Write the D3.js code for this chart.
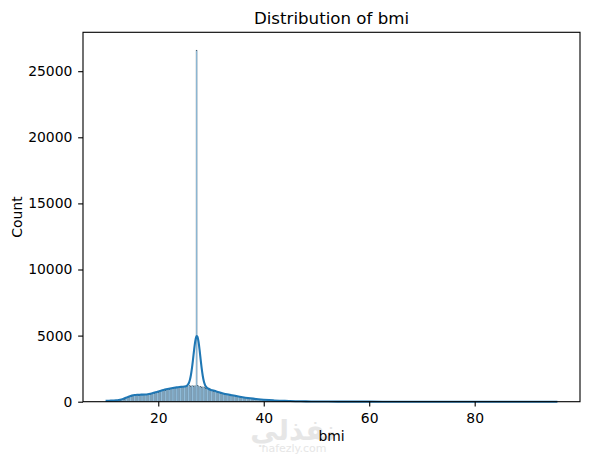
<!DOCTYPE html>
<html>
<head>
<meta charset="utf-8">
<script src="https://cdn.jsdelivr.net/npm/d3@7"></script>
<style>
  body { margin: 0; background: #fff; }
  svg { display: block; }
  text { font-family: "DejaVu Sans", sans-serif; }
</style>
</head>
<body>
<div id="chart"></div>
<script>
const width = 589, height = 455;
const margin = { top: 32.3, right: 9, bottom: 53.3, left: 83 };

// histogram of bmi: first edge, bin width and counts per bin
const binStart = 10.01;
const binWidth = 0.25576;
const counts = [
    25, 28, 32, 35, 38, 42, 46, 52, 58, 70, 85, 105, 130, 165, 210, 260, 310, 355, 395, 430,
    455, 475, 490, 500, 505, 512, 515, 520, 525, 530, 540, 550, 565, 580, 600, 620, 645, 670, 700, 730,
    760, 790, 820, 850, 880, 910, 935, 960, 985, 1005, 1025, 1045, 1065, 1080, 1095, 1110, 1120, 1130, 1140, 1150,
    1175, 1160, 1230, 1185, 1250, 1190, 1210, 26600, 1240, 1150, 1170, 1110, 1120, 1055, 1040, 990, 960, 920, 885, 850,
    815, 785, 750, 720, 690, 660, 635, 610, 585, 560, 540, 520, 500, 480, 460, 440, 422, 405, 388, 372,
    356, 340, 325, 310, 296, 282, 268, 255, 243, 231, 220, 209, 198, 188, 178, 169, 160, 152, 144, 136,
    129, 122, 115, 109, 103, 97, 92, 87, 82, 77, 73, 69, 65, 61, 58, 55, 52, 49, 46, 43,
    41, 39, 37, 35, 33, 31, 30, 28, 27, 25, 24, 23, 22, 21, 20, 19, 18, 17, 16, 15,
    15, 14, 13, 13, 12, 12, 11, 11, 10, 10, 9, 9, 9, 8, 8, 8, 7, 7, 7, 6,
    6, 6, 6, 5, 5, 5, 5, 5, 4, 4, 4, 4, 4, 4, 3, 3, 3, 3, 3, 3,
    3, 3, 3, 2, 3, 2, 2, 2, 2, 2, 2, 2, 2, 2, 2, 2, 2, 1, 2, 2,
    2, 1, 1, 2, 1, 1, 1, 2, 1, 1, 1, 1, 1, 1, 1, 1, 1, 1, 1, 1,
    1, 1, 1, 1, 0, 1, 1, 1, 0, 1, 1, 0, 1, 1, 1, 0, 1, 1, 0, 1,
    1, 0, 1, 0, 1, 1, 0, 1, 0, 1, 0, 1, 0, 1, 0, 1, 0, 1, 0, 1,
    0, 1, 0, 1, 0, 0, 1, 0, 1, 0, 1, 0, 0, 1, 0, 1, 0, 0, 1, 0,
    1, 0, 0, 1, 0, 1, 0, 0, 1, 0, 0, 1, 0, 1, 0, 0, 1, 0, 0, 1,
    0, 1, 0, 0, 1, 0, 0, 1, 0, 1, 0, 0, 1, 0, 1
];

// kde curve (in count units)
const kdeX = [10.01, 10.5, 11, 11.5, 12, 12.5, 13, 13.5, 14, 14.5, 15, 15.5, 16, 16.5, 17, 17.5, 18, 18.5, 19, 19.5,
    20, 20.5, 21, 21.5, 22, 22.5, 23, 23.5, 24, 24.5, 25, 25.2, 25.4, 25.6, 25.8, 26, 26.2, 26.4, 26.6, 26.8,
    27, 27.2, 27.32, 27.44, 27.64, 27.84, 28.04, 28.24, 28.44, 28.64, 28.84, 29.04, 29.24, 29.44, 30, 30.5, 31, 31.5, 32, 33,
    34, 35, 36, 37, 38, 39, 40, 41, 42, 43, 44, 45, 46, 47, 48, 49, 50, 52, 54, 56,
    58, 60, 65, 70, 75, 80, 85, 90, 95.69];
const kdeY = [70, 75, 80, 88, 100, 125, 170, 240, 320, 400, 460, 500, 520, 530, 535, 545, 565, 600, 650, 710,
    770, 830, 885, 935, 980, 1020, 1055, 1085, 1110, 1130, 1150, 1169, 1203, 1275, 1413, 1657, 2036, 2573, 3238, 3940,
    4545, 4910, 4970, 4900, 4520, 3900, 3180, 2498, 1946, 1547, 1288, 1135, 1048, 999, 890, 840, 780, 720, 660, 560,
    480, 405, 340, 282, 232, 188, 152, 122, 97, 77, 61, 48, 38, 30, 24, 19, 15, 10, 7, 5,
    4, 3, 2, 1.5, 1, 1, 0.7, 0.5, 0.3];

const xTicks = [20, 40, 60, 80];
const yTicks = [0, 5000, 10000, 15000, 20000, 25000];

const svg = d3.select("#chart").append("svg")
    .attr("width", width)
    .attr("height", height);

svg.append("rect").attr("width", width).attr("height", height).attr("fill", "#fff");

var x = d3.scaleLinear()
    .domain([5.727, 99.97])
    .range([margin.left, width - margin.right]);

var y = d3.scaleLinear()
    .domain([0, 27942])
    .range([height - margin.bottom, margin.top]);

// bars
svg.append("g")
    .selectAll("rect")
    .data(counts)
    .enter()
    .append("rect")
    .attr("x", (d, i) => x(binStart + i * binWidth))
    .attr("width", (d, i) => x(binStart + (i + 1) * binWidth) - x(binStart + i * binWidth))
    .attr("y", d => y(d))
    .attr("height", d => y(0) - y(d))
    .attr("fill", "#1f77b4")
    .attr("fill-opacity", 0.5)
    .attr("stroke", "#000")
    .attr("stroke-opacity", 0.5)
    .attr("stroke-width", 0.18);

// kde line
var line = d3.line()
    .x((d, i) => x(kdeX[i]))
    .y(d => y(d))
    .curve(d3.curveMonotoneX);

svg.append("path")
    .datum(kdeY)
    .attr("d", line)
    .attr("fill", "none")
    .attr("stroke", "#1f77b4")
    .attr("stroke-width", 2.08)
    .attr("stroke-linejoin", "round")
    .attr("stroke-linecap", "butt");

// axes
var xAxis = svg.append("g")
    .attr("transform", "translate(0," + y(0) + ")")
    .call(d3.axisBottom(x).tickValues(xTicks).tickSize(4.86).tickPadding(6.6).tickFormat(d3.format("d")));

var yAxis = svg.append("g")
    .attr("transform", "translate(" + margin.left + ",0)")
    .call(d3.axisLeft(y).tickValues(yTicks).tickSize(4.86).tickPadding(5.8).tickFormat(d3.format("d")));

[xAxis, yAxis].forEach(function (g) {
    g.select(".domain").remove();
    g.selectAll(".tick line").attr("stroke", "#000").attr("stroke-width", 1.11);
    g.selectAll(".tick text")
        .attr("fill", "#000")
        .style("font-family", "DejaVu Sans")
        .style("font-size", "13.9px");
});

// frame
svg.append("rect")
    .attr("x", x.range()[0])
    .attr("y", y.range()[1])
    .attr("width", x.range()[1] - x.range()[0])
    .attr("height", y.range()[0] - y.range()[1])
    .attr("fill", "none")
    .attr("stroke", "#000")
    .attr("stroke-width", 1.11);

// watermark
svg.append("text")
    .attr("x", 293)
    .attr("y", 440)
    .attr("text-anchor", "middle")
    .attr("fill", "#e6e6e6")
    .style("font-family", "DejaVu Sans")
    .style("font-weight", "bold")
    .style("font-size", "28px")
    .text("نفذلي");

svg.append("text")
    .attr("x", 294)
    .attr("y", 452)
    .attr("text-anchor", "middle")
    .attr("fill", "#e6e6e6")
    .style("font-size", "11px")
    .text("nafezly.com");

// labels
svg.append("text")
    .attr("x", (x.range()[0] + x.range()[1]) / 2)
    .attr("y", 23.5)
    .attr("text-anchor", "middle")
    .style("font-size", "16.67px")
    .text("Distribution of bmi");

svg.append("text")
    .attr("x", (x.range()[0] + x.range()[1]) / 2)
    .attr("y", 441)
    .attr("text-anchor", "middle")
    .style("font-size", "13.9px")
    .text("bmi");

svg.append("text")
    .attr("transform", "translate(22," + (y.range()[0] + y.range()[1]) / 2 + ") rotate(-90)")
    .attr("text-anchor", "middle")
    .style("font-size", "13.9px")
    .text("Count");
</script>
</body>
</html>
